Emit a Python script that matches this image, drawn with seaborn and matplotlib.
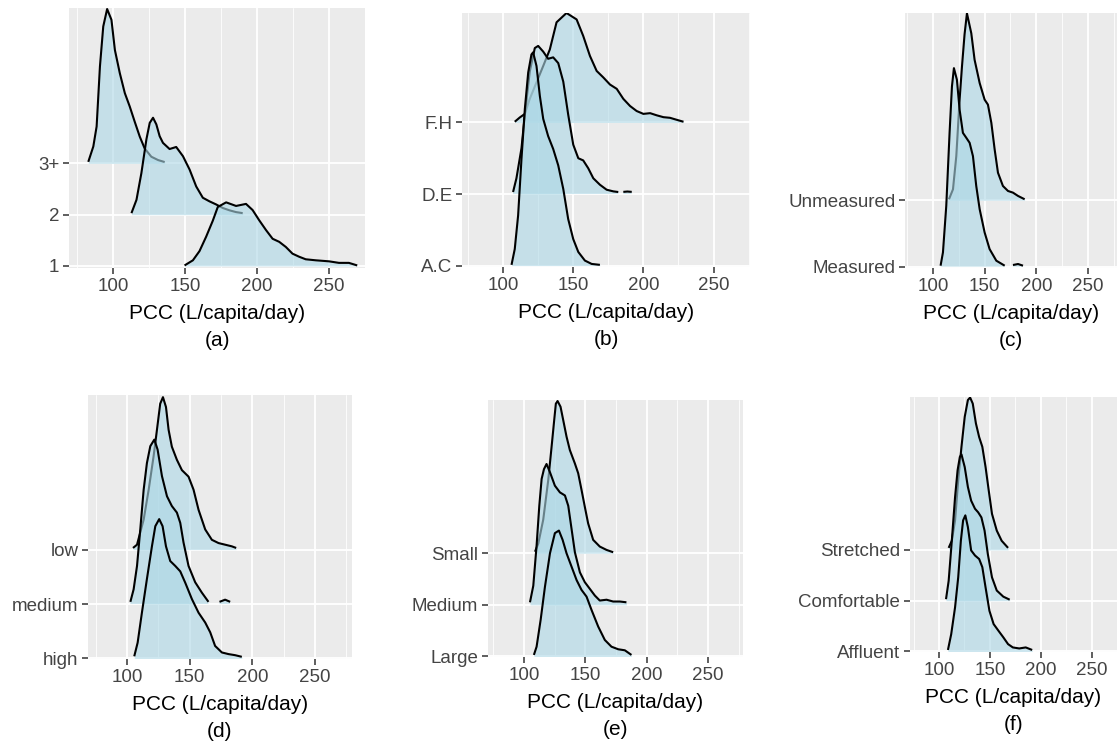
import numpy as np
import matplotlib.pyplot as plt
import seaborn as sns

sns.set_theme(style="darkgrid", rc={
    "axes.facecolor": "#EBEBEB",
    "grid.color": "white",
    "figure.facecolor": "white",
})
plt.rcParams['font.family'] = ['Liberation Sans', 'DejaVu Sans']

# ridge heights are in units of the row spacing
# (a) household size
a_rows = ['1', '2', '3+']
a_1_x = [149.6, 155.4, 160, 164.6, 169.2, 172.7, 178.5, 185.4, 192.3, 196.9, 201.5, 206.2,
         210.8, 215.4, 220, 224.6, 229.2, 233.8, 240.8, 250, 256.9, 263.8, 269.6]
a_1_h = [0.01, 0.11, 0.29, 0.57, 0.88, 1.15, 1.24, 1.17, 1.21, 1.09, 0.89, 0.70,
         0.53, 0.47, 0.37, 0.24, 0.18, 0.13, 0.11, 0.09, 0.06, 0.06, 0.01]
a_2_x = [112.7, 116.2, 119.6, 123.1, 125.4, 127.7, 130, 132.3, 134.6, 139.2, 143.8, 148.5,
         153.1, 157.7, 162.3, 166.9, 171.5, 176.2, 180.8, 185.4, 190]
a_2_h = [0.03, 0.29, 0.81, 1.47, 1.79, 1.89, 1.76, 1.53, 1.40, 1.28, 1.32, 1.14,
         0.88, 0.55, 0.33, 0.26, 0.20, 0.13, 0.085, 0.05, 0.03]
a_3_x = [82.7, 86.2, 88.5, 90.8, 93.1, 95.8, 98.8, 101.2, 104.6, 108.1, 111.5, 115,
         118.5, 121.9, 126.5, 131.2, 135.8]
a_3_h = [0.03, 0.33, 0.72, 1.89, 2.67, 3.01, 2.80, 2.21, 1.76, 1.37, 1.11, 0.81,
         0.52, 0.29, 0.13, 0.065, 0.026]

# (b) property type
b_rows = ['A.C', 'D.E', 'F.H']
b_ac_x = [106, 108.3, 110.7, 113.1, 115.5, 117.9, 120.2, 121.4, 123.8, 126.2, 128.6, 132.1,
          135.7, 139.3, 142.9, 146.4, 150, 153.6, 158.3, 163.1, 169]
b_ac_h = [0.01, 0.23, 0.70, 1.49, 2.19, 2.70, 2.95, 2.98, 2.79, 2.37, 2.05, 1.81,
          1.63, 1.40, 1.07, 0.65, 0.37, 0.19, 0.07, 0.023, 0.01]
b_de_x = [107.1, 109.5, 113.1, 115.5, 119, 122.6, 125, 128.6, 132.1, 135.7, 139.3, 142.9,
          146.4, 150, 153.6, 157.1, 160.7, 164.3, 169, 173.8, 178.6, 182.1,
          184, 185.7, 188.6, 191.7]
b_de_h = [0.028, 0.22, 0.64, 1.11, 1.71, 2.04, 2.07, 1.99, 1.89, 1.91, 1.83, 1.57,
          1.11, 0.69, 0.50, 0.47, 0.36, 0.22, 0.13, 0.06, 0.037, 0.028,
          np.nan, 0.03, 0.035, 0.03]
b_fh_x = [108.3, 111.9, 115.5, 119, 123.8, 128.6, 133.3, 138.1, 145.2, 152.4, 157.1, 161.9,
          166.7, 171.4, 176.2, 181, 185.7, 190.5, 195.2, 200, 204.8, 209.5, 214.3, 219,
          223.8, 228.6]
b_fh_h = [0.01, 0.07, 0.12, 0.33, 0.56, 0.79, 1.02, 1.40, 1.53, 1.44, 1.21, 0.93,
          0.72, 0.63, 0.53, 0.47, 0.33, 0.23, 0.16, 0.12, 0.13, 0.10, 0.074, 0.065,
          0.037, 0.01]

# (c) metering
c_rows = ['Measured', 'Unmeasured']
c_me_x = [107.4, 109.7, 112.9, 116.1, 118.4, 120.3, 123.2, 125.8, 129, 132.3, 135.5, 138.7,
          141.9, 145.2, 150, 154.8, 161.3, 169.4,
          173, 177.4, 182.3, 187.1]
c_me_h = [0.015, 0.215, 0.915, 2.015, 2.715, 2.99, 2.815, 2.365, 2.015, 1.94, 1.865, 1.665,
          1.215, 0.865, 0.515, 0.265, 0.09, 0.015,
          np.nan, 0.025, 0.04, 0.015]
c_un_x = [115.5, 119.4, 122.6, 125.8, 128.1, 130.6, 132.9, 137.1, 140.3, 145.2, 150, 153.2,
          156.5, 159.7, 162.9, 167.7, 172.6, 177.4, 182.3, 188.7]
c_un_h = [0.015, 0.165, 0.665, 1.515, 2.015, 2.5, 2.815, 2.515, 2.115, 1.765, 1.515, 1.44,
          1.165, 0.765, 0.415, 0.215, 0.14, 0.115, 0.065, 0.015]

# (d) occupancy
d_rows = ['high', 'medium', 'low']
d_hi_x = [105.8, 108.5, 111.9, 115.9, 119.9, 122.6, 125.7, 128.4, 131.1, 134.5, 138.5, 142.5,
          146.5, 151.8, 157.1, 162.4, 166.4, 170.3, 175.7, 181, 186.3, 191.6]
d_hi_h = [0.04, 0.29, 0.84, 1.46, 2.06, 2.43, 2.56, 2.43, 2.06, 1.79, 1.70, 1.60,
          1.39, 1.09, 0.84, 0.66, 0.48, 0.23, 0.11, 0.08, 0.06, 0.03]
d_me_x = [102.7, 105.3, 108, 110.6, 113.3, 115.9, 118.6, 121.8, 124.4, 127.9, 131.9, 135.8,
          139.8, 142.5, 145.1, 149.1, 154.4, 159.7, 165,
          170, 173.8, 178.3, 182.3]
d_me_h = [0.04, 0.27, 0.70, 1.37, 2.10, 2.59, 2.90, 3.02, 2.84, 2.35, 1.98, 1.80,
          1.68, 1.49, 1.13, 0.70, 0.40, 0.21, 0.04,
          np.nan, 0.04, 0.08, 0.04]
d_lo_x = [104.8, 108, 113.3, 117.3, 121.2, 123.9, 126.5, 128.7, 131.1, 133.2, 135.8, 139.8,
          143.8, 149.1, 153.1, 157.1, 162.4, 167.7, 173, 178.3, 183.6, 187.1]
d_lo_h = [0.03, 0.09, 0.55, 1.10, 1.71, 2.20, 2.68, 2.80, 2.62, 2.20, 1.89, 1.65,
          1.46, 1.34, 1.10, 0.73, 0.37, 0.18, 0.12, 0.09, 0.06, 0.03]

# (e) property size
e_rows = ['Large', 'Medium', 'Small']
e_la_x = [108.1, 110.3, 113.6, 117.1, 121.2, 125.2, 128.5, 131.5, 134.7, 138.8, 142.9, 146.9,
          151, 155.1, 160.5, 165.9, 171.3, 176.8, 182.2, 187.6]
e_la_h = [0.03, 0.19, 0.71, 1.35, 2.0, 2.39, 2.44, 2.26, 2.0, 1.74, 1.48, 1.29,
          1.16, 0.90, 0.58, 0.32, 0.19, 0.14, 0.12, 0.03]
e_me_x = [104.9, 107.6, 110.3, 112.5, 114.4, 116.3, 118.4, 121.2, 125.2, 129.3, 133.4, 136.1,
          138.8, 141.5, 145.6, 149.6, 153.7, 157.8, 161.8, 167.3, 172.7, 178.1, 183.5]
e_me_h = [0.05, 0.37, 1.15, 1.92, 2.44, 2.63, 2.73, 2.57, 2.31, 2.18, 2.12, 1.92,
          1.47, 1.02, 0.63, 0.44, 0.31, 0.18, 0.084, 0.10, 0.065, 0.065, 0.05]
e_sm_x = [109, 111.7, 115.7, 119.8, 122.5, 124.4, 126, 127.4, 129.8, 132, 134.7, 137.4,
          141.5, 144.2, 146.9, 149.6, 152.3, 156.4, 161.8, 167.3, 172.7]
e_sm_h = [0.03, 0.19, 0.65, 1.42, 2.06, 2.52, 2.90, 2.95, 2.84, 2.58, 2.26, 2.0,
          1.74, 1.55, 1.23, 0.90, 0.58, 0.26, 0.13, 0.065, 0.02]

# (f) affluence
f_rows = ['Affluent', 'Comfortable', 'Stretched']
f_af_x = [108.8, 112, 115.8, 118.9, 121.5, 123.7, 125.9, 128.4, 131.6, 135.4, 139.5, 142.6,
          145.8, 149.6, 153.7, 158.4, 163.2, 167.9, 172.6, 178.9, 185.3, 191.6]
f_af_h = [0.03, 0.34, 0.87, 1.46, 2.18, 2.58, 2.68, 2.45, 1.99, 1.89, 1.82, 1.66,
          1.26, 0.80, 0.54, 0.41, 0.28, 0.145, 0.08, 0.06, 0.08, 0.03]
f_co_x = [106.9, 109.5, 112.6, 115.8, 118.3, 120.5, 122.1, 125.3, 128.4, 131.6, 135.4, 138.5,
          141.7, 144.8, 148, 152.1, 156.8, 163.2, 169.5]
f_co_h = [0.03, 0.39, 1.18, 2.04, 2.57, 2.83, 2.88, 2.63, 2.24, 1.97, 1.81, 1.74,
          1.64, 1.38, 0.92, 0.46, 0.20, 0.08, 0.02]
f_st_x = [109.5, 112.6, 115.8, 118.9, 122.1, 125.3, 128.4, 130.6, 133.2, 136.3, 139.5, 142.6,
          145.8, 148.9, 152.1, 156.8, 161.6, 167.9]
f_st_h = [0.04, 0.18, 0.58, 1.37, 2.03, 2.62, 2.95, 3.0, 2.88, 2.49, 2.22, 2.03,
          1.63, 1.17, 0.71, 0.38, 0.18, 0.04]

x_major = [100, 150, 200, 250]
x_minor = [75, 125, 175, 225, 275]
x_title = 'PCC (L/capita/day)'

W, H = 1117, 751
fig = plt.figure(figsize=(W / 100, H / 100), dpi=100)


def add_axes(left, top, right, bottom):
    return fig.add_axes([left / W, 1 - bottom / H, (right - left) / W, (bottom - top) / H])


def ridges(ax, rows, curves, xlim, ylim, tag):
    n = len(rows)
    for i in reversed(range(n)):
        x = np.asarray(curves[i][0], float)
        h = np.asarray(curves[i][1], float)
        z = 2 + (n - i) * 2
        ax.fill_between(x, i, i + h, color='#ADD8E6', alpha=0.6, lw=0, zorder=z)
        ax.plot(x, i + h, color='black', lw=1.5, zorder=z + 1,
                solid_capstyle='butt', solid_joinstyle='round')
    ax.set_xlim(*xlim)
    ax.set_ylim(*ylim)
    ax.set_xticks(x_major)
    ax.set_xticks(x_minor, minor=True)
    ax.set_yticks(range(n))
    ax.set_yticklabels(rows)
    ax.set_axisbelow(True)
    ax.grid(True, which='major', color='white', lw=1.3)
    ax.grid(True, which='minor', axis='x', color='white', lw=0.6)
    ax.tick_params(axis='both', which='major', bottom=True, left=True,
                   length=4, width=1.1, color='#333333',
                   labelsize=13.5, labelcolor='#444444', pad=3)
    ax.tick_params(axis='both', which='minor', length=0)
    for s in ax.spines.values():
        s.set_visible(False)
    ax.set_xlabel(f'{x_title}\n({tag})', fontsize=15, color='black',
                  linespacing=1.5, labelpad=7)


ax = add_axes(69, 8, 365, 268)
ridges(ax, a_rows, [(a_1_x, a_1_h), (a_2_x, a_2_h), (a_3_x, a_3_h)],
       (69.3, 274.2), (-0.04, 5.03), 'a')

ax = add_axes(462, 13, 750, 267)
ridges(ax, b_rows, [(b_ac_x, b_ac_h), (b_de_x, b_de_h), (b_fh_x, b_fh_h)],
       (70.7, 276), (-0.02, 3.53), 'b')

ax = add_axes(905, 13, 1117, 268)
ridges(ax, c_rows, [(c_me_x, c_me_h), (c_un_x, c_un_h)],
       (73, 278), (-0.02, 3.82), 'c')

ax = add_axes(88, 395, 352, 659)
ridges(ax, d_rows, [(d_hi_x, d_hi_h), (d_me_x, d_me_h), (d_lo_x, d_lo_h)],
       (68.9, 279.5), (-0.01, 4.84), 'd')

ax = add_axes(488, 400, 743, 657)
ridges(ax, e_rows, [(e_la_x, e_la_h), (e_me_x, e_me_h), (e_sm_x, e_sm_h)],
       (70.7, 278.5), (-0.01, 4.97), 'e')

ax = add_axes(910, 397, 1117, 652)
ridges(ax, f_rows, [(f_af_x, f_af_h), (f_co_x, f_co_h), (f_st_x, f_st_h)],
       (71.5, 268), (-0.01, 5.01), 'f')

fig.savefig('out.png', dpi=100)
